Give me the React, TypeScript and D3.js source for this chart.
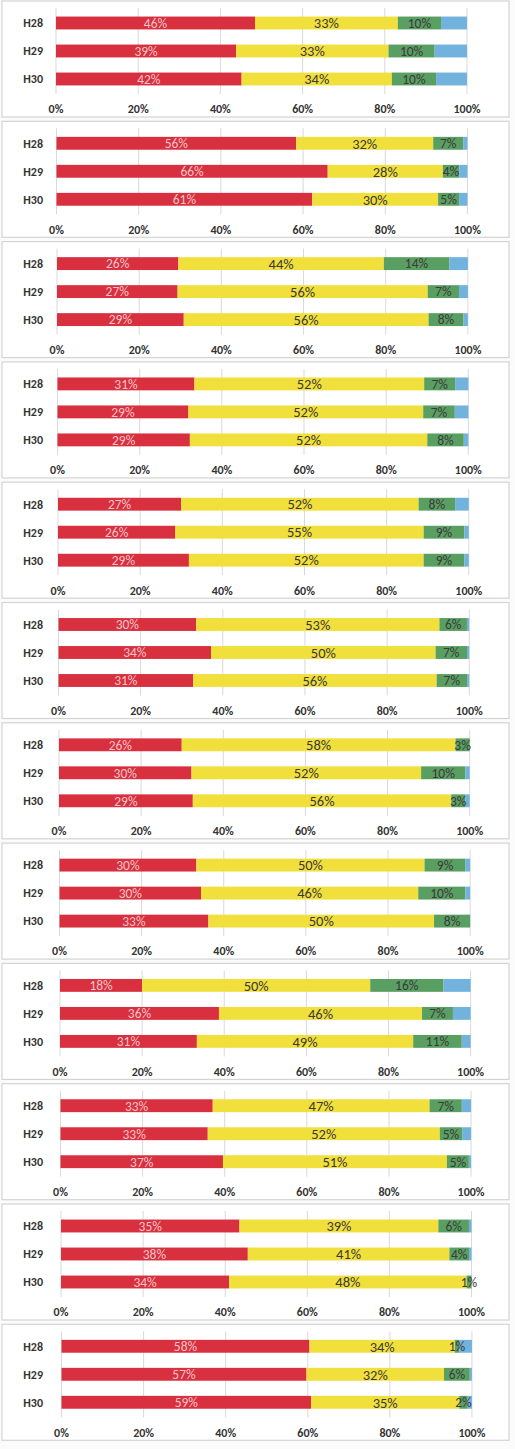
import React from 'react';
import * as d3 from 'd3';

// fiscal years shown in every panel
const years = ['H28', 'H29', 'H30'];
const tickValues = [0, 0.2, 0.4, 0.6, 0.8, 1];

// one row per panel, one value per year (percent labels as printed)
const redValues = [
  [46, 39, 42], [56, 66, 61], [26, 27, 29], [31, 29, 29],
  [27, 26, 29], [30, 34, 31], [26, 30, 29], [30, 30, 33],
  [18, 36, 31], [33, 33, 37], [35, 38, 34], [58, 57, 59],
];
const yellowValues = [
  [33, 33, 34], [32, 28, 30], [44, 56, 56], [52, 52, 52],
  [52, 55, 52], [53, 50, 56], [58, 52, 56], [50, 46, 50],
  [50, 46, 49], [47, 52, 51], [39, 41, 48], [34, 32, 35],
];
const greenValues = [
  [10, 10, 10], [7, 4, 5], [14, 7, 8], [7, 7, 8],
  [8, 9, 9], [6, 7, 7], [3, 10, 3], [9, 10, 8],
  [16, 7, 11], [7, 5, 5], [6, 4, 1], [1, 6, 2],
];
// unlabelled remainder
const blueValues = [
  [6, 7, 7], [1, 2, 2], [4, 2, 1], [3, 3, 1],
  [3, 1, 1], [0.5, 0.5, 0.5], [0, 1, 1], [1, 1, 0],
  [6, 4, 2], [2, 2, 0.5], [0.5, 0.5, 0], [3, 0.5, 1],
];

const keys = ['red', 'yellow', 'green', 'blue'];
const colors: Record<string, string> = {
  red: '#d8303f',
  yellow: '#f1df3c',
  green: '#5a9f62',
  blue: '#71b3dc',
};

const W = 515;
const H = 1449;
const panelStep = 120.3;
const font = 'Carlito, Calibri, "Open Sans", sans-serif';

function Panel({ index }: { index: number }) {
  const top = index * panelStep;
  const rows = years.map((yr, i) => ({
    year: yr,
    red: redValues[index][i],
    yellow: yellowValues[index][i],
    green: greenValues[index][i],
    blue: blueValues[index][i],
  }));
  const series = d3.stack<any>().keys(keys).offset(d3.stackOffsetExpand)(rows);

  const x = d3.scaleLinear().domain([0, 1]).range([56 + index * 0.5, 467 + index * 0.45]);
  const y = d3.scaleBand().domain(years).range([top + 9, top + 93]).paddingInner(0.54).paddingOuter(0.27);
  const pct = d3.format('.0%');

  return (
    <g>
      <rect x={2} y={top + 1} width={507} height={116} fill="#fff" stroke="#d4d4d4" strokeWidth={1.2} />
      {tickValues.map((t) => (
        <line key={t} x1={x(t)} x2={x(t)} y1={top + 8} y2={top + 94} stroke="#d9d9d9" strokeWidth={1} />
      ))}
      {series.map((s) => (
        <g key={s.key} fill={colors[s.key]}>
          {s.map((d, i) => (
            <rect
              key={i}
              x={x(d[0])}
              y={y(d.data.year)}
              width={Math.max(0, x(d[1]) - x(d[0]))}
              height={y.bandwidth()}
            />
          ))}
        </g>
      ))}
      {series
        .filter((s) => s.key !== 'blue')
        .map((s) =>
          s.map((d, i) => (
            <text
              key={s.key + i}
              x={(x(d[0]) + x(d[1])) / 2}
              y={(y(d.data.year) as number) + y.bandwidth() / 2}
              dy="0.36em"
              textAnchor="middle"
              fontSize={s.key === 'yellow' ? 14.5 : 13.5}
              fill={s.key === 'red' ? '#f3c4c8' : '#3a3a3a'}
              fontFamily={font}
            >
              {d.data[s.key as string] + '%'}
            </text>
          ))
        )}
      {years.map((yr) => (
        <text
          key={yr}
          x={43}
          y={(y(yr) as number) + y.bandwidth() / 2}
          dy="0.36em"
          textAnchor="end"
          fontSize={12}
          fontWeight="bold"
          fill="#333"
          fontFamily={font}
        >
          {yr}
        </text>
      ))}
      {tickValues.map((t) => (
        <text
          key={'t' + t}
          x={x(t)}
          y={top + 109}
          dy="0.36em"
          textAnchor="middle"
          fontSize={12}
          fontWeight="bold"
          fill="#333"
          fontFamily={font}
        >
          {pct(t)}
        </text>
      ))}
    </g>
  );
}

export default function App() {
  return (
    <svg
      width={W}
      height={H}
      style={{ position: 'absolute', left: 0, top: 0, background: '#fbfbfb' }}
    >
      {redValues.map((_, i) => (
        <Panel key={i} index={i} />
      ))}
    </svg>
  );
}
